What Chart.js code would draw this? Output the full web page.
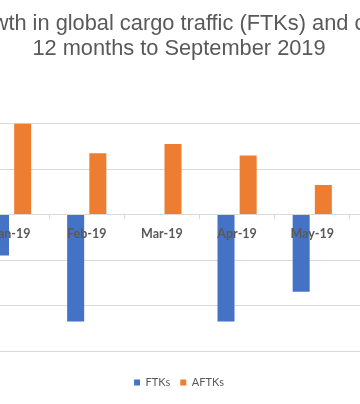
<!DOCTYPE html>
<html>
<head>
<meta charset="utf-8">
<script src="https://cdn.jsdelivr.net/npm/chart.js@4.4.1/dist/chart.umd.min.js"></script>
<style>
    html, body { margin: 0; padding: 0; background: #ffffff; overflow: hidden; }
    body { width: 360px; height: 404px; position: relative; }
    #cargoChart { position: absolute; left: -67px; top: 0; }
</style>
</head>
<body>
<canvas id="cargoChart" width="492" height="404"></canvas>
<script>
// Data (% growth, year-on-year)
const months = ['Jan-19', 'Feb-19', 'Mar-19', 'Apr-19', 'May-19', 'Jun-19'];
const ftks = [-1.8, -4.7, 0, -4.7, -3.4, null];
const aftks = [4.0, 2.7, 3.1, 2.6, 1.3, null];
const titleLines = ['wth in global cargo traffic (FTKs) and c', '12 months to September 2019'];
const yMin = -6;
const yMax = 4;
const yStep = 2;

const gridGrey = '#d9d9d9';
const textGrey = '#595959';

const cargoChart = new Chart(document.getElementById('cargoChart'), {
    type: 'bar',
    data: {
        labels: months,
        datasets: [
            {
                label: 'FTKs',
                data: ftks,
                backgroundColor: '#4472c4',
                categoryPercentage: 0.59,
                barPercentage: 0.767,
            },
            {
                label: 'AFTKs',
                data: aftks,
                backgroundColor: '#ed7d31',
                categoryPercentage: 0.59,
                barPercentage: 0.767,
            },
        ],
    },
    options: {
        responsive: false,
        animation: false,
        layout: { padding: { bottom: 6 } },
        scales: {
            x: {
                position: { y: 0 },
                grid: {
                    display: true,
                    drawOnChartArea: false,
                    drawTicks: true,
                    tickLength: 4,
                    tickColor: gridGrey,
                    offset: true,
                },
                border: { display: false },
                ticks: {
                    z: 1, // month labels sit on top of the bars
                    color: textGrey,
                    font: { family: 'Lato, sans-serif', size: 12.5, weight: 'bold' },
                    padding: 7.5,
                    maxRotation: 0,
                    autoSkip: false,
                },
            },
            y: {
                min: yMin,
                max: yMax,
                ticks: { display: false, stepSize: yStep },
                grid: { color: gridGrey, drawTicks: false },
                border: { display: false },
                // keep room on the left so the title centre lands where it should
                afterFit: (scale) => { scale.width = 41; },
            },
        },
        plugins: {
            title: {
                display: true,
                text: titleLines,
                color: textGrey,
                font: { family: '"Liberation Sans", Arial, sans-serif', size: 21.8, weight: 'normal', lineHeight: 1.16 },
                padding: { top: 11, bottom: 62 },
            },
            legend: {
                position: 'bottom',
                // empty title only used as a spacer above the legend row
                title: { display: true, text: '', padding: { top: 4, bottom: 0 }, font: { size: 10 } },
                labels: {
                    color: textGrey,
                    font: { family: 'Lato, sans-serif', size: 11 },
                    boxWidth: 6,
                    boxHeight: 6,
                    padding: 10,
                },
            },
            tooltip: { enabled: false },
        },
    },
});
</script>
</body>
</html>
